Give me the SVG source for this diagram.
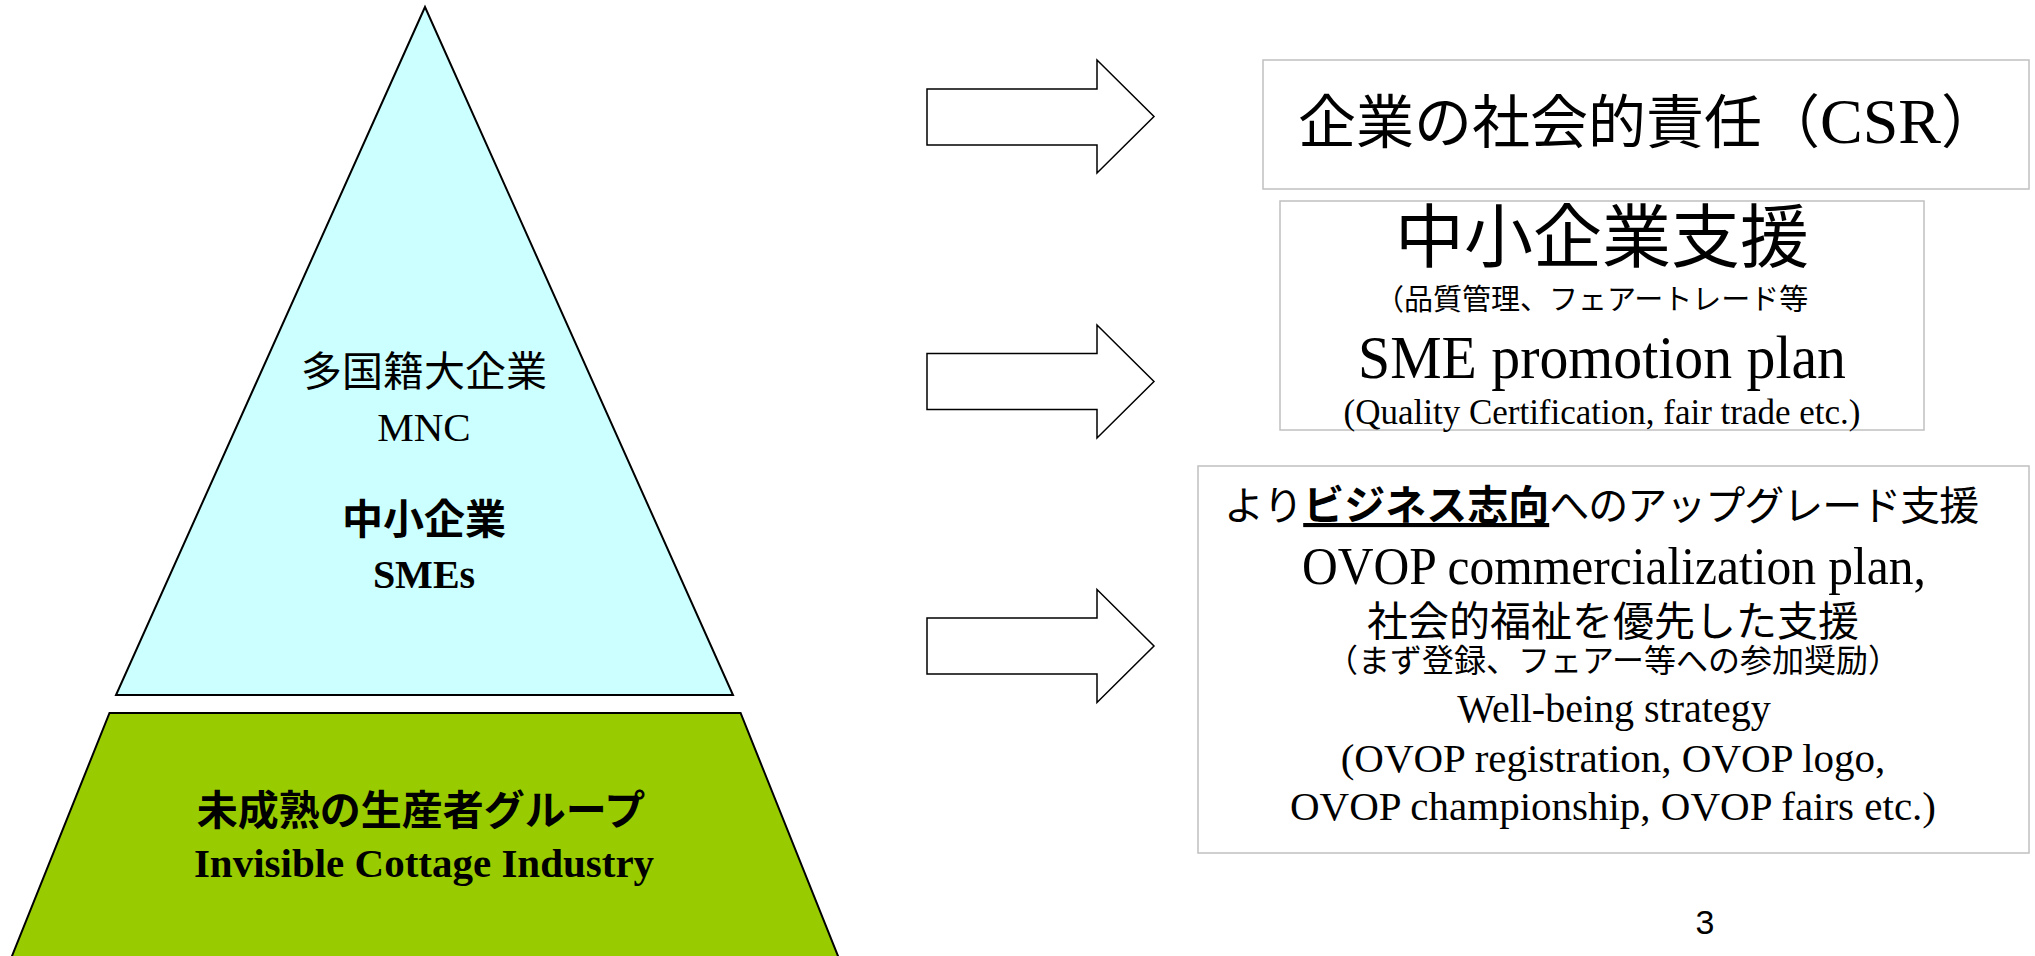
<svg xmlns="http://www.w3.org/2000/svg" width="2035" height="956" viewBox="0 0 2035 956">
<style>
.jp{font-family:"Noto Sans CJK JP","Noto Sans",sans-serif;fill:#000}
.jpb{font-family:"Noto Sans CJK JP","Noto Sans",sans-serif;font-weight:bold;fill:#000}
.se{font-family:"Liberation Serif","Noto Sans CJK JP",serif;fill:#000}
.seb{font-family:"Liberation Serif","Noto Sans CJK JP",serif;font-weight:bold;fill:#000}
.box{fill:#fff;stroke:#c0c0c0;stroke-width:1.5}
.arrow{fill:#fff;stroke:#000;stroke-width:1.5;stroke-linejoin:miter}
.mid{text-anchor:middle}
</style>
<rect width="2035" height="956" fill="#fff"/>
<g id="mnc-sme-triangle">
<polygon points="425,7 116,695 733,695" fill="#ccffff" stroke="#000" stroke-width="2"/>
<text class="jp mid" x="424" y="386" font-size="41">多国籍大企業</text>
<text class="se mid" x="424" y="441" font-size="41">MNC</text>
<text class="jpb mid" x="424" y="534" font-size="41">中小企業</text>
<text class="seb mid" x="424" y="588" font-size="40">SMEs</text>
</g>
<g id="cottage-trapezoid">
<polygon points="109.5,713 740.6,713 842,966 8,966" fill="#99cc00" stroke="#000" stroke-width="2"/>
<text class="jpb mid" x="421" y="825" font-size="41">未成熟の生産者グループ</text>
<text class="seb mid" x="424" y="877" font-size="41">Invisible Cottage Industry</text>
</g>
<g id="connectors">
<polygon class="arrow" points="927,89 1097,89 1097,60 1154,116.5 1097,173 1097,145 927,145"/>
<polygon class="arrow" points="927,353.5 1097,353.5 1097,325 1154,381.5 1097,438 1097,409.5 927,409.5"/>
<polygon class="arrow" points="927,618 1097,618 1097,589.5 1154,646 1097,702.5 1097,674 927,674"/>
</g>
<g id="csr-box">
<rect class="box" x="1263" y="60" width="766" height="129"/>
<text class="jp" x="1298" y="143" font-size="58">企業の社会的責任（<tspan class="se" font-size="64">CSR</tspan>）</text>
</g>
<g id="sme-box">
<rect class="box" x="1280" y="201" width="644" height="229"/>
<text class="jp mid" x="1602" y="262" font-size="69">中小企業支援</text>
<text class="jp" x="1375" y="310" font-size="29">（品質管理、フェアートレード等</text>
<text class="se mid" x="1602" y="378" font-size="61" textLength="488" lengthAdjust="spacingAndGlyphs">SME promotion plan</text>
<text class="se mid" x="1602" y="424" font-size="35">(Quality Certification, fair trade etc.)</text>
</g>
<g id="ovop-box">
<rect class="box" x="1198" y="466" width="831" height="387"/>
<text class="jp" x="1224" y="520" font-size="40">より<tspan class="jpb" font-size="41" text-decoration="underline">ビジネス志向</tspan><tspan letter-spacing="-1">へのアップグレード支援</tspan></text>
<text class="se mid" x="1614" y="584" font-size="52" textLength="624" lengthAdjust="spacingAndGlyphs">OVOP commercialization plan,</text>
<text class="jp mid" x="1613" y="636" font-size="41">社会的福祉を優先した支援</text>
<text class="jp mid" x="1613" y="672" font-size="32">（まず登録、フェアー等への参加奨励）</text>
<text class="se mid" x="1614" y="722" font-size="40">Well-being strategy</text>
<text class="se mid" x="1613" y="772" font-size="41">(OVOP registration, OVOP logo,</text>
<text class="se mid" x="1613" y="820" font-size="41">OVOP championship, OVOP fairs etc.)</text>
</g>
<text x="1705" y="934" font-family="Liberation Sans, sans-serif" font-size="34" text-anchor="middle" fill="#000">3</text>
</svg>
